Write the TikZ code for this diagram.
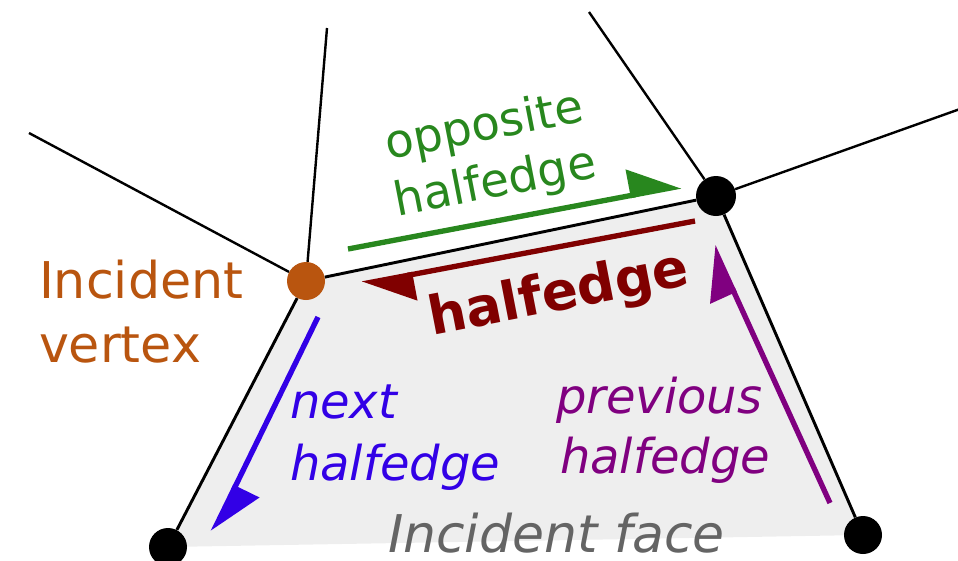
\documentclass[tikz,border=0pt]{standalone}
\usepackage{fontspec}
\setmainfont{DejaVu Sans}
\usetikzlibrary{arrows.meta}
\definecolor{cgreen}{RGB}{40,135,30}
\definecolor{cred}{RGB}{128,0,0}
\definecolor{cblue}{RGB}{50,0,230}
\definecolor{cpurple}{RGB}{128,0,128}
\definecolor{corange}{RGB}{185,85,15}
\definecolor{cface}{RGB}{238,238,238}
\definecolor{cgray}{RGB}{100,100,100}
\begin{document}
\begin{tikzpicture}[x=0.75pt,y=-0.75pt,
  vtx/.style={circle,inner sep=0pt,minimum size=28.5pt,fill=black},
  edgeline/.style={line width=2.2pt,black},
  spoke/.style={line width=1.8pt,black},
  harrow/.style={line width=4pt,-{Triangle[left,length=35pt,width=39pt]}},
  txt/.style={inner sep=0pt,outer sep=0pt}
]
\useasboundingbox (0,0) rectangle (958,561);
\coordinate (p1) at (306,281);
\coordinate (p2) at (716,196);
\coordinate (p3) at (168,547);
\coordinate (p4) at (863,535);
\fill[cface] (p1) -- (p2) -- (p4) -- (p3) -- cycle;
% vertices
\node[vtx,fill=corange] (v1) at (p1) {};
\node[vtx,minimum size=30pt] (v2) at (p2) {};
\node[vtx] (v3) at (p3) {};
\node[vtx] (v4) at (p4) {};
% spokes
\coordinate (s1) at (29,133);
\coordinate (s2) at (327,28);
\coordinate (s3) at (589,12);
\coordinate (s4) at (960,109);
\draw[spoke] (s1) -- (v1);
\draw[spoke] (s2) -- (v1);
\draw[spoke] (s3) -- (v2);
\draw[spoke] (s4) -- (v2);
% edges
\draw[edgeline] (v1) -- (v2);
\draw[edgeline] (v1) -- (v3);
\draw[edgeline] (v2) -- (v4);
% halfedge arrows
\coordinate (g1) at (348,249); \coordinate (g2) at (681,186);
\coordinate (r1) at (695,221); \coordinate (r2) at (362,284);
\coordinate (b1) at (318,317); \coordinate (b2) at (213,532);
\coordinate (u1) at (830,503); \coordinate (u2) at (713,246);
\draw[harrow,cgreen] (g1) -- (g2);
\draw[harrow,cred] (r1) -- (r2);
\draw[harrow,cblue] (b1) -- (b2);
\draw[harrow,cpurple] (u1) -- (u2);
% labels
\node[txt,anchor=base west,text=corange,font=\fontsize{38}{48}\selectfont] (tv1) at (39,298) {Incident};
\node[txt,anchor=base west,text=corange,font=\fontsize{38}{48}\selectfont] (tv2) at (39,362) {vertex};
\node[txt,rotate=11,align=center,text=cgreen,font=\fontsize{35}{43}\selectfont] (top) at (490,156) {opposite\\halfedge};
\node[txt,rotate=11,text=cred,font=\bfseries\fontsize{40}{48}\selectfont] (th) at (559,296) {halfedge};
\node[txt,anchor=base west,text=cblue,font=\itshape\fontsize{36}{46}\selectfont] (tn1) at (290,418) {next};
\node[txt,anchor=base west,text=cblue,font=\itshape\fontsize{36}{46}\selectfont] (tn2) at (290,480) {halfedge};
\node[txt,anchor=base west,text=cpurple,font=\itshape\fontsize{36}{46}\selectfont] (tp1) at (556,413) {previous};
\node[txt,anchor=base west,text=cpurple,font=\itshape\fontsize{36}{46}\selectfont] (tp2) at (560,473) {halfedge};
\node[txt,anchor=base west,text=cgray,font=\itshape\fontsize{39}{48}\selectfont] (tf) at (388,552) {Incident face};
\end{tikzpicture}
\end{document}
